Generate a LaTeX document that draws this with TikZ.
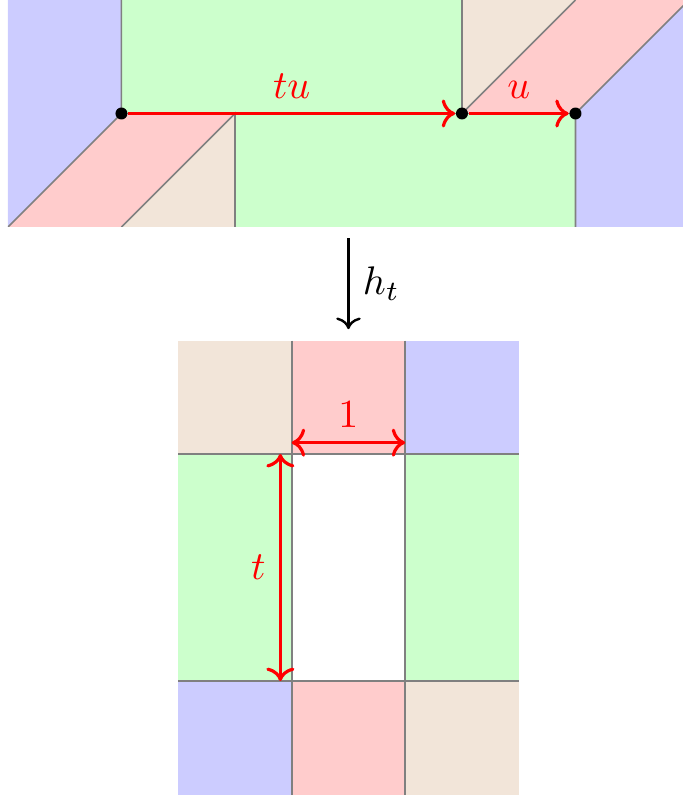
\documentclass[tikz,border=0pt]{standalone}
\usepackage{amsmath}
\usepackage{amssymb}
\usepackage{tikz}
\usepackage{xcolor}
\usetikzlibrary{arrows.meta,positioning,calc}

\begin{document}
\begin{tikzpicture}[
    edge/.style={gray, thin},
    vec/.style={->, red, thick},
    dim/.style={<->, red, thick},
    pt/.style={circle, fill=black, inner sep=0pt, minimum size=3pt},
    lbl/.style={text=red}
]
\useasboundingbox (-0.07,-7.013) rectangle (5.947,0);

% the strip before h_t
\begin{scope}
\clip (0,0) rectangle (5.947,-2);
\fill[blue!20] (0,0) -- (1,0) -- (1,-1) -- (0,-2) -- cycle;
\fill[green!20] (1,0) rectangle (4,-1);
\fill[brown!20] (4,0) -- (5,0) -- (4,-1) -- cycle;
\fill[red!20] (4,-1) -- (5,0) -- (6,0) -- (5,-1) -- cycle;
\fill[blue!20] (5,-1) -- (6,0) -- (6,-2) -- (5,-2) -- cycle;
\fill[red!20] (1,-1) -- (2,-1) -- (1,-2) -- (0,-2) -- cycle;
\fill[brown!20] (2,-1) -- (2,-2) -- (1,-2) -- cycle;
\fill[green!20] (2,-1) rectangle (5,-2);
\draw[edge] (1,0) -- (1,-1) -- (0,-2);
\draw[edge] (4,0) -- (4,-1) -- (5,0);
\draw[edge] (6,0) -- (5,-1) -- (5,-2);
\draw[edge] (2,-2) -- (2,-1) -- (1,-2);
\draw[edge] (1,-1) -- (5,-1);
\end{scope}

\node[pt] (p0) at (1,-1) {};
\node[pt] (p1) at (4,-1) {};
\node[pt] (p2) at (5,-1) {};

\draw[vec] (p0) -- node[above, lbl] {$tu$} (p1);
\draw[vec] (p1) -- node[above, lbl] {$u$} (p2);

% the map
\coordinate (src) at (3,-2.1);
\coordinate (dst) at (3,-2.9);
\draw[->, semithick] (src) -- node[right] {$h_t$} (dst);

% the square with a hole
\foreach \x/\y/\c in {1.5/-3/brown, 2.5/-3/red, 3.5/-3/blue,
                      1.5/-4/green, 3.5/-4/green,
                      1.5/-6/blue, 2.5/-6/red, 3.5/-6/brown}
    \fill[\c!20] (\x,\y) rectangle ++(1,-1);
\fill[green!20] (1.5,-5) rectangle (2.5,-6);
\fill[green!20] (3.5,-5) rectangle (4.5,-6);

\draw[edge] (2.5,-3) -- (2.5,-7);
\draw[edge] (3.5,-3) -- (3.5,-7);
\draw[edge] (1.5,-4) -- (4.5,-4);
\draw[edge] (1.5,-6) -- (4.5,-6);

\coordinate (w0) at (2.5,-3.9);
\coordinate (w1) at (3.5,-3.9);
\coordinate (h0) at (2.4,-4);
\coordinate (h1) at (2.4,-6);
\draw[dim] (w0) -- node[above, lbl] {$1$} (w1);
\draw[dim] (h0) -- node[left, lbl] {$t$} (h1);

\end{tikzpicture}
\end{document}
